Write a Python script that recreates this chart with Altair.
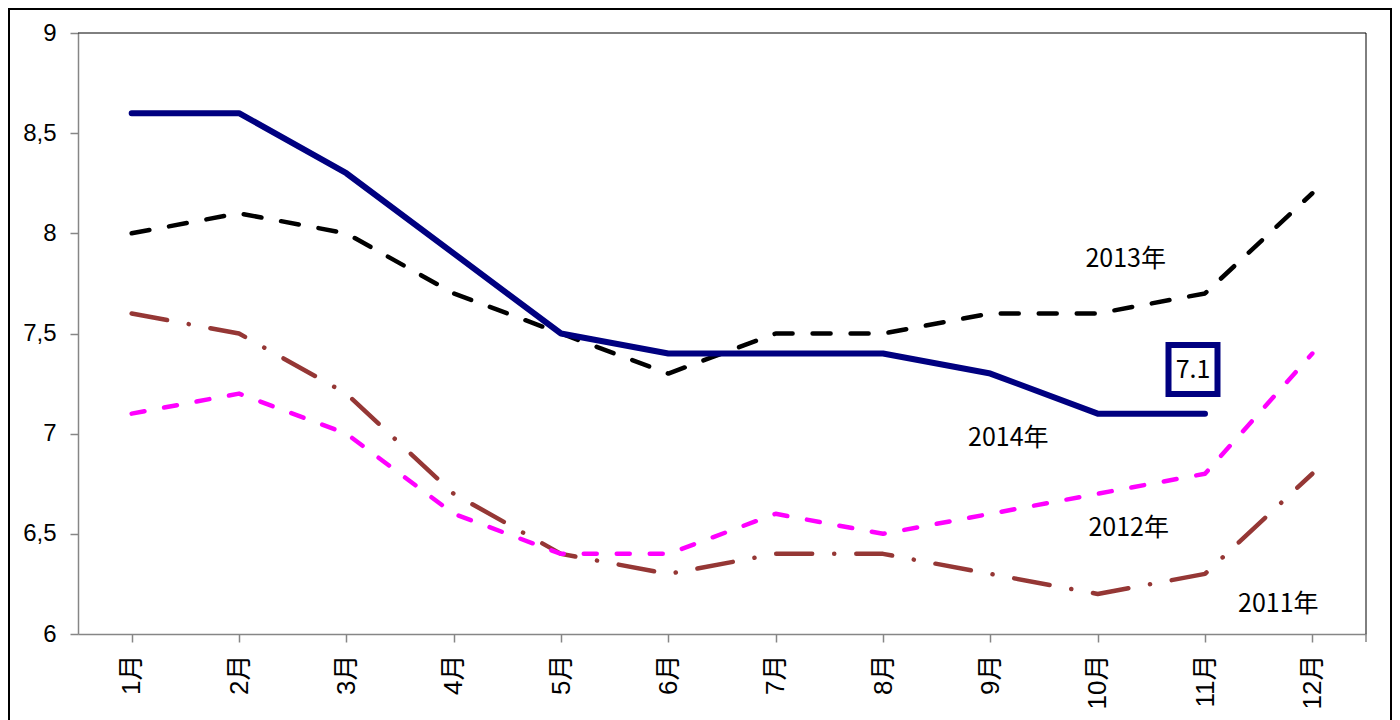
import altair as alt
import pandas as pd

months = ["1月", "2月", "3月", "4月", "5月", "6月", "7月", "8月", "9月", "10月", "11月", "12月"]
v2011 = [7.6, 7.5, 7.2, 6.7, 6.4, 6.3, 6.4, 6.4, 6.3, 6.2, 6.3, 6.8]
v2012 = [7.1, 7.2, 7.0, 6.6, 6.4, 6.4, 6.6, 6.5, 6.6, 6.7, 6.8, 7.4]
v2013 = [8.0, 8.1, 8.0, 7.7, 7.5, 7.3, 7.5, 7.5, 7.6, 7.6, 7.7, 8.2]
v2014 = [8.6, 8.6, 8.3, 7.9, 7.5, 7.4, 7.4, 7.4, 7.3, 7.1, 7.1]
y_ticks = [6, 6.5, 7, 7.5, 8, 8.5, 9]

series_names = ["2011年", "2012年", "2013年", "2014年"]
series_values = [v2011, v2012, v2013, v2014]

# annotation labels
ann_text = ["2013年", "2014年", "2012年", "2011年"]
ann_month = ["10月", "9月", "10月", "12月"]
ann_y = [7.87, 6.98, 6.53, 6.15]
ann_dx = [28, 18, 31, -34]

callout_text = "7.1"
callout_month = "11月"
callout_y = 7.31

W, H = 1288, 601

rows = []
for name, vals in zip(series_names, series_values):
    for m, v in zip(months, vals):
        rows.append({"month": m, "value": v, "series": name})
df = pd.DataFrame(rows)

styles = {
    "2011年": dict(color="#953735", strokeWidth=4.5, strokeDash=[36, 22, 0.1, 22]),
    "2012年": dict(color="#FF00FF", strokeWidth=4.5, strokeDash=[13, 20]),
    "2013年": dict(color="#000000", strokeWidth=4.5, strokeDash=[18, 20]),
    "2014年": dict(color="#000080", strokeWidth=6),
}

x_enc = alt.X(
    "month:N",
    sort=months,
    scale=alt.Scale(domain=months),
    axis=alt.Axis(
        title=None, labelAngle=-90, labelFontSize=26, labelFont="Liberation Sans, Noto Sans CJK JP",
        labelColor="black", labelPadding=12, tickSize=8, tickColor="#868686",
        domainColor="#868686", domainWidth=1.5, tickWidth=1.5, grid=False,
    ),
)
y_enc = alt.Y(
    "value:Q",
    scale=alt.Scale(domain=[6, 9], nice=False, zero=False),
    axis=alt.Axis(
        title=None, values=y_ticks, format="~g", labelExpr="replace(datum.label, '.', ',')",
        labelFontSize=24, labelFont="Liberation Sans", labelColor="black",
        labelPadding=14, tickSize=8, tickColor="#868686", domainColor="#868686",
        domainWidth=1.5, tickWidth=1.5, grid=False,
    ),
)

layers = []
for name in series_names:
    st = styles[name]
    kw = dict(color=st["color"], strokeWidth=st["strokeWidth"], strokeCap="round", strokeJoin="round")
    if "strokeDash" in st:
        kw["strokeDash"] = st["strokeDash"]
    layers.append(
        alt.Chart(df[df["series"] == name]).mark_line(**kw).encode(x=x_enc, y=y_enc)
    )

for t, m, v, d in zip(ann_text, ann_month, ann_y, ann_dx):
    layers.append(
        alt.Chart(pd.DataFrame({"text": [t], "month": [m], "value": [v]}))
        .mark_text(font="Noto Sans CJK JP", fontSize=25, color="black", dx=d, align="center", baseline="middle")
        .encode(x=alt.X("month:N", sort=months), y="value:Q", text="text:N")
    )

call_df = pd.DataFrame({"text": [callout_text], "month": [callout_month], "value": [callout_y]})
layers.append(
    alt.Chart(call_df)
    .mark_point(shape="square", size=2400, filled=False, fill="white", fillOpacity=1,
                stroke="#000080", strokeWidth=6, opacity=1, xOffset=-12, yOffset=-2)
    .encode(x=alt.X("month:N", sort=months), y="value:Q")
)
layers.append(
    alt.Chart(call_df)
    .mark_text(font="Noto Sans CJK JP", fontSize=25, color="black", dx=-12, dy=-2, align="center", baseline="middle")
    .encode(x=alt.X("month:N", sort=months), y="value:Q", text="text:N")
)

# plot frame top and right (black), end tick of x axis, outer border
layers.append(alt.Chart().mark_rule(color="black", strokeWidth=1).encode(
    x=alt.value(0), x2=alt.value(W), y=alt.value(0)))
layers.append(alt.Chart().mark_rule(color="black", strokeWidth=1).encode(
    x=alt.value(W), y=alt.value(0), y2=alt.value(H)))
layers.append(alt.Chart().mark_rule(color="#868686", strokeWidth=1.5).encode(
    x=alt.value(W), y=alt.value(H), y2=alt.value(H + 8)))
layers.append(alt.Chart().mark_rect(fill=None, stroke="black", strokeWidth=2).encode(
    x=alt.value(-69), x2=alt.value(1313), y=alt.value(-24), y2=alt.value(H + 200)))

chart = (
    alt.layer(*layers)
    .properties(
        width=W, height=H,
        autosize=alt.AutoSizeParams(type="none"),
        padding={"left": 70, "top": 25, "right": 26, "bottom": 86},
        background="white",
    )
    .configure_view(stroke=None)
)

chart.save("out.html", embed_options={"renderer": "svg", "actions": False})
